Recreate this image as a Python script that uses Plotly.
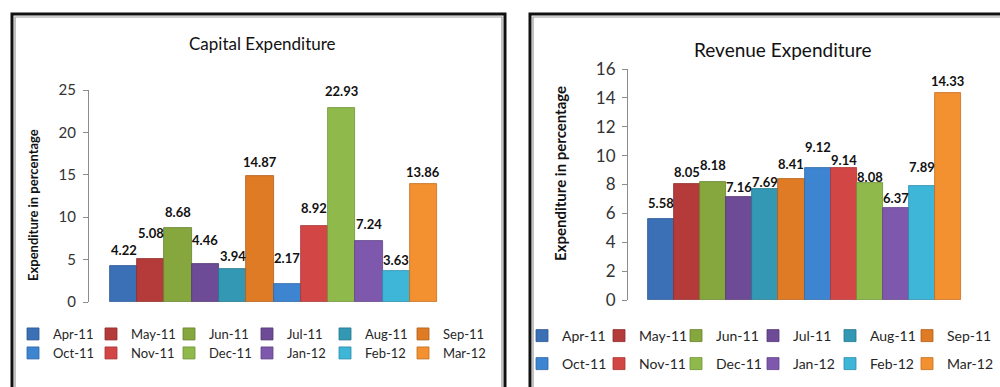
import plotly.graph_objects as go

# ---- data -------------------------------------------------------------
months = ["Apr-11", "May-11", "Jun-11", "Jul-11", "Aug-11", "Sep-11",
          "Oct-11", "Nov-11", "Dec-11", "Jan-12", "Feb-12", "Mar-12"]
capital = [4.22, 5.08, 8.68, 4.46, 3.94, 14.87,
           2.17, 8.92, 22.93, 7.24, 3.63, 13.86]
revenue = [5.58, 8.05, 8.18, 7.16, 7.69, 8.41,
           9.12, 9.14, 8.08, 6.37, 7.89, 14.33]
capital_ticks = [0, 5, 10, 15, 20, 25]
revenue_ticks = [0, 2, 4, 6, 8, 10, 12, 14, 16]

# ---- style ------------------------------------------------------------
colors = ["#3B70B6", "#B53B3A", "#86A73E", "#6E4B96", "#3398B4", "#E07B25",
          "#3E85D1", "#D24646", "#8FBA4B", "#7E58AD", "#3EB6D7", "#F39030"]
edge = ["#2C5590", "#8E2C2B", "#66822C", "#533873", "#24768C", "#B25E16",
        "#2D66A6", "#A83434", "#6E9136", "#5F4185", "#2B8CA8", "#C26F1E"]
# vertical gap (px) between the top of each bar and its value label
capital_lift = [16, 26, 16, 24, 13, 14, 26, 18, 17, 17, 11, 12]
revenue_lift = [16, 12, 17, 10, 7, 15, 21, 8, 6, 10, 19, 12]

FONT = "Lato"
W, H = 1000, 387


def px_x(p):
    return p / W


def px_y(p):
    return 1 - p / H


fig = go.Figure()

# one trace per month so each month gets its own legend entry
for i, m in enumerate(months):
    fig.add_trace(go.Bar(
        x=[m], y=[capital[i]], name=m, xaxis="x", yaxis="y",
        marker=dict(color=colors[i], line=dict(color=edge[i], width=0.8)),
        legend="legend" if i < 6 else "legend2",
        hoverinfo="name+y",
    ))
for i, m in enumerate(months):
    fig.add_trace(go.Bar(
        x=[m], y=[revenue[i]], name=m, xaxis="x2", yaxis="y2",
        marker=dict(color=colors[i], line=dict(color=edge[i], width=0.8)),
        legend="legend3" if i < 6 else "legend4",
        hoverinfo="name+y",
    ))

annotations = []
for i, m in enumerate(months):
    annotations.append(dict(
        x=m, y=capital[i], xref="x", yref="y", text=f"<b>{capital[i]:.2f}</b>",
        showarrow=False, xanchor="center", yanchor="middle",
        yshift=capital_lift[i],
        font=dict(family=FONT, size=13, color="#111111")))
    annotations.append(dict(
        x=m, y=revenue[i], xref="x2", yref="y2", text=f"<b>{revenue[i]:.2f}</b>",
        showarrow=False, xanchor="center", yanchor="middle",
        yshift=revenue_lift[i],
        font=dict(family=FONT, size=13, color="#111111")))


def paper_text(x, y, text, size, angle=0):
    return dict(x=px_x(x), y=px_y(y), xref="paper", yref="paper", text=text,
                showarrow=False, xanchor="center", yanchor="middle",
                textangle=angle,
                font=dict(family=FONT, size=size, color="#111111"))


# chart titles
annotations.append(paper_text(262, 43, "Capital Expenditure", 17))
annotations.append(paper_text(783, 50, "Revenue Expenditure", 19))
# y-axis titles
annotations.append(paper_text(33, 205, "<b>Expenditure in percentage</b>", 13, -90))
annotations.append(paper_text(560, 174, "<b>Expenditure in percentage</b>", 15, -90))

# panel frames: heavy black outline with a thin grey inner rule
shapes = []
for x0, x1 in [(12, 505), (530, 1010)]:
    shapes.append(dict(type="rect", xref="paper", yref="paper",
                       x0=px_x(x0), x1=px_x(x1), y0=px_y(14), y1=-0.2,
                       line=dict(color="#111111", width=3), layer="below"))
    shapes.append(dict(type="rect", xref="paper", yref="paper",
                       x0=px_x(x0 + 3), x1=px_x(x1 - 3), y0=px_y(17), y1=-0.2,
                       line=dict(color="#9A9A9A", width=1.2), layer="below"))

axis_common = dict(showgrid=False, zeroline=False, showline=True,
                   linecolor="#8C8C8C", linewidth=1, ticks="outside",
                   ticklen=5, tickcolor="#8C8C8C", automargin=False)


def legend_box(x, y, size, entry):
    return dict(orientation="h", x=x, y=y, xanchor="left", yanchor="middle",
                bgcolor="rgba(0,0,0,0)", borderwidth=0, entrywidth=entry,
                indentation=-10, traceorder="normal",
                font=dict(family=FONT, size=size, color="#262626"))


gap = 0.77
fig.update_layout(
    width=W, height=H,
    margin=dict(l=0, r=0, t=0, b=0, autoexpand=False),
    paper_bgcolor="white", plot_bgcolor="rgba(0,0,0,0)",
    barmode="overlay", bargap=0,
    xaxis=dict(domain=[px_x(89), px_x(458)], type="category",
               categoryorder="array", categoryarray=months,
               range=[-0.5 - gap, 11.5 + gap], showticklabels=False,
               showgrid=False, zeroline=False, showline=False, ticks="",
               automargin=False),
    yaxis=dict(domain=[px_y(302), px_y(90)], range=[0, 25],
               tickvals=capital_ticks, ticklabelstandoff=4,
               tickfont=dict(family=FONT, size=15, color="#333333"),
               anchor="x", **axis_common),
    xaxis2=dict(domain=[px_x(628), px_x(981)], type="category",
                categoryorder="array", categoryarray=months,
                range=[-0.5 - gap, 11.5 + gap], showticklabels=False,
                showgrid=False, zeroline=False, showline=False, ticks="",
                anchor="y2", automargin=False),
    yaxis2=dict(domain=[px_y(300), px_y(69)], range=[0, 16],
                tickvals=revenue_ticks, ticklabelstandoff=3,
                tickfont=dict(family=FONT, size=17, color="#333333"),
                anchor="x2", **axis_common),
    legend=legend_box(px_x(23), px_y(334), 13, 43),
    legend2=legend_box(px_x(23), px_y(353), 13, 43),
    legend3=legend_box(px_x(532), px_y(336), 14, 42),
    legend4=legend_box(px_x(532), px_y(364), 14, 42),
    annotations=annotations,
    shapes=shapes,
)

fig.write_html("out.html")
